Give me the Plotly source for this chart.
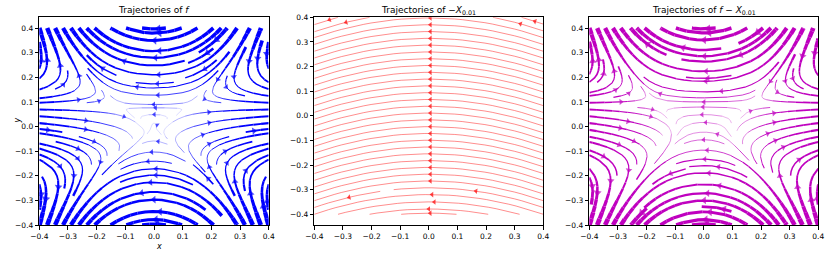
import numpy as np
import plotly.graph_objects as go

# ---------------- data: vector fields (polynomial terms: coef, power of x, power of y)
# f(x, y) = (x^2 - P y^2, x (G - Q y - R y^3))
F_U = [(1.0, 2, 0), (-2.0, 0, 2)]
F_V = [(0.05, 1, 0), (-0.5, 1, 1), (-20.0, 1, 3)]
EPS = 0.01
# X_eps(x, y) = eps * (1, -x)
X_U = [(EPS, 0, 0)]
X_V = [(-EPS, 1, 0)]

GRID = np.linspace(-0.4, 0.4, 81)
TICKS = [-0.4, -0.3, -0.2, -0.1, 0.0, 0.1, 0.2, 0.3, 0.4]
TITLES = ["Trajectories of <i>f</i>",
          "Trajectories of −<i>X</i><sub>0.01</sub>",
          "Trajectories of <i>f</i> − <i>X</i><sub>0.01</sub>"]
COLORS = ["#0000ff", "#ff0000", "#bf00bf"]
YRANGES = [[-0.4, 0.4435], [-0.4435, 0.4], [-0.4, 0.4435]]
LW_A = 6.85
LW_POW = 0.617


def poly(terms, X, Y):
    out = np.zeros_like(X)
    for c, px, py in terms:
        out = out + c * X ** px * Y ** py
    return out


class OOB(Exception):
    pass


class Term(Exception):
    pass


class Occ(Exception):
    pass


def streamplot_traj(xs, ys, U, V, density=1.0, minlength=0.1, maxlength=4.0):
    nx, ny = len(xs), len(ys)
    dx = xs[1] - xs[0]
    dy = ys[1] - ys[0]
    mnx = mny = int(30 * density)
    mask = np.zeros((mny, mnx), dtype=int)
    xg2m = (mnx - 1) / (nx - 1)
    yg2m = (mny - 1) / (ny - 1)
    ug = U / dx
    vg = V / dy
    spd = np.sqrt((ug / (nx - 1)) ** 2 + (vg / (ny - 1)) ** 2)
    mag = np.hypot(U, V)
    st = {'traj': [], 'cur': None}

    def within(xi, yi):
        return 0 <= xi <= nx - 1 and 0 <= yi <= ny - 1

    def interp(a, xi, yi):
        x = int(xi)
        y = int(yi)
        xn = x if x == nx - 1 else x + 1
        yn = y if y == ny - 1 else y + 1
        xt = xi - x
        yt = yi - y
        a0 = a[y, x] * (1 - xt) + a[y, xn] * xt
        a1 = a[yn, x] * (1 - xt) + a[yn, xn] * xt
        return a0 * (1 - yt) + a1 * yt

    def g2m(xi, yi):
        return int(round(xi * xg2m)), int(round(yi * yg2m))

    def update(xm, ym):
        if st['cur'] != (xm, ym):
            if mask[ym, xm] == 0:
                st['traj'].append((ym, xm))
                mask[ym, xm] = 1
                st['cur'] = (xm, ym)
            else:
                raise Occ

    def f(xi, yi, sign):
        if not within(xi, yi):
            raise OOB
        ds_dt = interp(spd, xi, yi)
        if ds_dt == 0:
            raise Term
        return sign * interp(ug, xi, yi) / ds_dt, sign * interp(vg, xi, yi) / ds_dt

    def rk12(x0, y0, sign):
        maxerror = 0.003
        maxds = min(1.0 / mnx, 1.0 / mny, 0.1)
        ds = maxds
        stotal = 0.0
        xi, yi = x0, y0
        traj = []
        while True:
            try:
                if within(xi, yi):
                    traj.append((xi, yi))
                else:
                    raise OOB
                k1x, k1y = f(xi, yi, sign)
                k2x, k2y = f(xi + ds * k1x, yi + ds * k1y, sign)
            except OOB:
                if traj:
                    xe, ye = traj[-1]
                    try:
                        cx, cy = f(xe, ye, sign)
                        dsx = np.inf if cx == 0 else (xe / -cx if cx < 0 else (nx - 1 - xe) / cx)
                        dsy = np.inf if cy == 0 else (ye / -cy if cy < 0 else (ny - 1 - ye) / cy)
                        d = min(dsx, dsy)
                        traj.append((xe + cx * d, ye + cy * d))
                        stotal += d
                    except (OOB, Term):
                        pass
                break
            except Term:
                break
            dx1 = ds * k1x
            dy1 = ds * k1y
            dx2 = ds * 0.5 * (k1x + k2x)
            dy2 = ds * 0.5 * (k1y + k2y)
            err = np.hypot((dx2 - dx1) / (nx - 1), (dy2 - dy1) / (ny - 1))
            if err < maxerror:
                xi += dx2
                yi += dy2
                try:
                    if not within(xi, yi):
                        raise Occ
                    update(*g2m(xi, yi))
                except Occ:
                    break
                if stotal + ds > maxlength:
                    break
                stotal += ds
            if err == 0:
                ds = maxds
            else:
                ds = min(maxds, 0.85 * ds * (maxerror / err) ** 0.5)
        return stotal, traj

    def integrate(x0, y0):
        st['traj'] = []
        try:
            update(*g2m(x0, y0))
        except Occ:
            return None
        s1, t1 = rk12(x0, y0, -1.0)
        st['cur'] = g2m(x0, y0)
        s2, t2 = rk12(x0, y0, 1.0)
        xy = t1[::-1] + t2[1:]
        if s1 + s2 > minlength and len(xy) > 1:
            return np.array(xy)
        for (yy, xx) in st['traj']:
            mask[yy, xx] = 0
        return None

    def gen_start(shape):
        nyy, nxx = shape
        xfirst, yfirst, xlast, ylast = 0, 1, nxx - 1, nyy - 1
        x, y = 0, 0
        d = 'right'
        for _ in range(nxx * nyy):
            yield x, y
            if d == 'right':
                x += 1
                if x >= xlast:
                    xlast -= 1
                    d = 'up'
            elif d == 'up':
                y += 1
                if y >= ylast:
                    ylast -= 1
                    d = 'left'
            elif d == 'left':
                x -= 1
                if x <= xfirst:
                    xfirst += 1
                    d = 'down'
            else:
                y -= 1
                if y <= yfirst:
                    yfirst += 1
                    d = 'right'

    trajs = []
    for xm, ym in gen_start(mask.shape):
        if mask[ym, xm] == 0:
            t = integrate(xm / xg2m, ym / yg2m)
            if t is not None:
                trajs.append(t)
    out = []
    for t in trajs:
        tgx, tgy = t[:, 0], t[:, 1]
        sp = np.array([interp(mag, min(max(a, 0), nx - 1), min(max(b, 0), ny - 1)) for a, b in zip(tgx, tgy)])
        out.append((xs[0] + tgx * dx, ys[0] + tgy * dy, sp))
    return out


XX, YY = np.meshgrid(GRID, GRID)
FU, FV = poly(F_U, XX, YY), poly(F_V, XX, YY)
XU, XV = poly(X_U, XX, YY), poly(X_V, XX, YY)
FIELDS = [(FU, FV), (-XU, -XV), (FU - XU, FV - XV)]

W, H = 830, 254
fig = go.Figure()
DOMX = [[39.3 / W, 268.7 / W], [314.3 / W, 543.3 / W], [589.3 / W, 818.3 / W]]
DOMY = [1 - 225 / H, 1 - 17.3 / H]
PXW = 229.2
PXH = 207.7

for i, (U, V) in enumerate(FIELDS):
    ax = '' if i == 0 else str(i + 1)
    trajs = streamplot_traj(GRID, GRID, U, V)
    ysc = PXH / (YRANGES[i][1] - YRANGES[i][0])
    xsc = PXW / 0.8
    bins = {}
    ax_x, ax_y, ax_ang, ax_sz = [], [], [], []
    for tx, ty, sp in trajs:
        lw = LW_A * (0.5 * (sp[:-1] + sp[1:])) ** LW_POW
        q = np.round(lw / 0.15) * 0.15
        start = 0
        for k in range(1, len(q) + 1):
            if k == len(q) or q[k] != q[start]:
                key = round(float(max(q[start], 0.15)), 2)
                b = bins.setdefault(key, ([], []))
                b[0].extend(list(tx[start:k + 1]) + [None])
                b[1].extend(list(ty[start:k + 1]) + [None])
                start = k
        s = np.cumsum(np.hypot(np.diff(tx), np.diff(ty)))
        n = int(np.searchsorted(s, s[-1] / 2.0))
        n = min(n, len(tx) - 2)
        ddx = (tx[n + 1] - tx[n]) * xsc
        ddy = (ty[n + 1] - ty[n]) * ysc
        nrm = np.hypot(ddx, ddy) or 1.0
        size = 4.5 + 0.9 * float(lw[n])
        r = size / 2.0
        hx = 0.5 * (tx[n] + tx[n + 1]) - r * ddx / nrm / xsc
        hy = 0.5 * (ty[n] + ty[n + 1]) - r * ddy / nrm / ysc
        ax_x.append(hx)
        ax_y.append(hy)
        ax_ang.append(float(np.degrees(np.arctan2(ddx, ddy))))
        ax_sz.append(size)
    for key in sorted(bins):
        xsl, ysl = bins[key]
        fig.add_trace(go.Scatter(x=xsl, y=ysl, mode='lines', xaxis='x' + ax, yaxis='y' + ax,
                                 line=dict(color=COLORS[i], width=key), hoverinfo='skip',
                                 showlegend=False))
    fig.add_trace(go.Scatter(x=ax_x, y=ax_y, mode='markers', xaxis='x' + ax, yaxis='y' + ax,
                             marker=dict(symbol='triangle-up', angle=ax_ang, size=ax_sz,
                                         color=COLORS[i], line=dict(width=0)),
                             hoverinfo='skip', showlegend=False))
    axis_common = dict(showline=True, mirror=True, linecolor='black', linewidth=1,
                       ticks='outside', ticklen=3.5, tickwidth=1, tickcolor='black',
                       showgrid=False, zeroline=False, automargin=False,
                       tickfont=dict(family='DejaVu Sans', size=7.5, color='black'),
                       tickvals=TICKS, tickformat='.1f')
    fig.layout['xaxis' + ax] = dict(domain=DOMX[i], range=[-0.4, 0.4], anchor='y' + ax, **axis_common)
    fig.layout['yaxis' + ax] = dict(domain=DOMY, range=YRANGES[i], anchor='x' + ax, **axis_common)
    fig.add_annotation(text=TITLES[i], x=(DOMX[i][0] + DOMX[i][1]) / 2, y=1 - 10 / H,
                       xref='paper', yref='paper', showarrow=False, xanchor='center', yanchor='middle',
                       font=dict(family='DejaVu Sans', size=9, color='black'))

fig.add_annotation(text='<i>x</i>', x=(DOMX[0][0] + DOMX[0][1]) / 2, y=1 - 246 / H, xref='paper',
                   yref='paper', showarrow=False, yanchor='middle',
                   font=dict(family='DejaVu Sans', size=8, color='black'))
fig.add_annotation(text='<i>y</i>', x=10 / W, y=1 - 121 / H, xref='paper', yref='paper', textangle=-90,
                   showarrow=False, font=dict(family='DejaVu Sans', size=8, color='black'))

fig.update_layout(width=W, height=H, margin=dict(l=0, r=0, t=0, b=0),
                  paper_bgcolor='white', plot_bgcolor='white', hovermode=False)
fig.write_html("out.html", config={'displayModeBar': False, 'staticPlot': True},
               post_script="document.body.style.margin='0px';")
